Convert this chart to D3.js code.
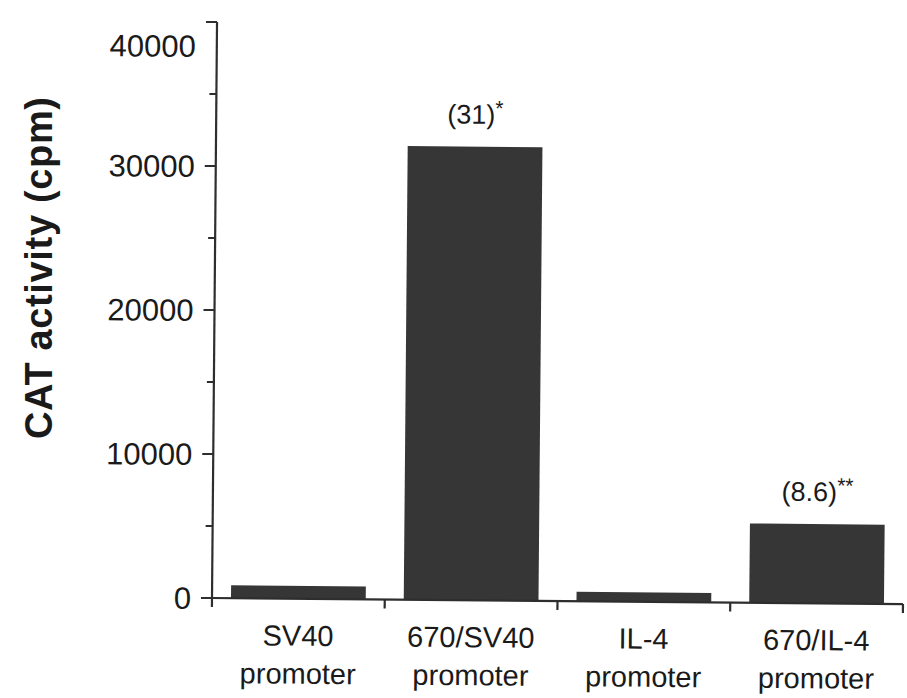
<!DOCTYPE html>
<html>
<head>
<meta charset="utf-8">
<script src="https://cdn.jsdelivr.net/npm/d3@7"></script>
<style>
  html, body { margin: 0; padding: 0; background: #fff; }
  svg { display: block; }
  text { font-family: "Liberation Sans", Arial, Helvetica, sans-serif; fill: #1a1a1a; }
</style>
</head>
<body>
<svg id="chart" width="907" height="698"></svg>
<script>
// CAT reporter activity for each promoter construct
const categories = [
  ["SV40", "promoter"],
  ["670/SV40", "promoter"],
  ["IL-4", "promoter"],
  ["670/IL-4", "promoter"]
];
const catActivity = [900, 31500, 650, 5500];
const foldLabels = [null, ["(31)", "*"], null, ["(8.6)", "**"]];
const majorTicks = [0, 10000, 20000, 30000, 40000];
const minorTicks = [5000, 15000, 25000, 35000];
const yTitle = "CAT activity (cpm)";

const svg = d3.select("#chart");
const origin = { x: 212, y: 598 };
const ink = "#2e2e2e";

// slight clockwise skew of the whole plot
const g = svg.append("g")
  .attr("transform", `rotate(0.5, ${origin.x}, ${origin.y})`);

const y = d3.scaleLinear().domain([0, 40000]).range([origin.y, 22]);
const x = d3.scaleBand()
  .domain(categories.map((d, i) => i))
  .range([origin.x, 903])
  .paddingInner(0.22)
  .paddingOuter(0.11);

// bars
g.selectAll("rect.bar")
  .data(catActivity)
  .join("rect")
  .attr("class", "bar")
  .attr("x", (d, i) => x(i))
  .attr("width", x.bandwidth())
  .attr("y", d => y(d))
  .attr("height", d => y(0) - y(d))
  .attr("fill", "#363636");

// y axis
const yAxis = g.append("g").attr("transform", `translate(${origin.x},0)`);
yAxis.append("line")
  .attr("x1", 0).attr("x2", 0)
  .attr("y1", y(40000)).attr("y2", y(0) + 1)
  .attr("stroke", ink).attr("stroke-width", 2.2);
yAxis.selectAll("line.major").data(majorTicks).join("line")
  .attr("class", "major")
  .attr("x1", -11).attr("x2", 0)
  .attr("y1", d => y(d)).attr("y2", d => y(d))
  .attr("stroke", ink).attr("stroke-width", 2);
yAxis.selectAll("line.minor").data(minorTicks).join("line")
  .attr("class", "minor")
  .attr("x1", -7).attr("x2", 0)
  .attr("y1", d => y(d)).attr("y2", d => y(d))
  .attr("stroke", ink).attr("stroke-width", 2);
yAxis.selectAll("text.tick").data(majorTicks).join("text")
  .attr("class", "tick")
  .attr("x", -21)
  .attr("y", d => y(d) + (d === 40000 ? 24 : 0))
  .attr("dy", "0.36em")
  .attr("text-anchor", "end")
  .style("font-size", "31px")
  .text(d => d);

// x axis with ticks on band boundaries
const edges = categories.map((d, i) => x(i) - x.step() * x.paddingInner() / 2).concat([903]);
edges[0] = origin.x;
const xAxis = g.append("g");
xAxis.append("line")
  .attr("x1", origin.x - 1).attr("x2", 903)
  .attr("y1", y(0)).attr("y2", y(0))
  .attr("stroke", ink).attr("stroke-width", 2.2);
xAxis.selectAll("line.xt").data(edges).join("line")
  .attr("class", "xt")
  .attr("x1", d => d).attr("x2", d => d)
  .attr("y1", y(0)).attr("y2", y(0) + 9)
  .attr("stroke", ink).attr("stroke-width", 2.2);

// category labels (two lines each)
const labels = xAxis.selectAll("text.cat").data(categories).join("text")
  .attr("class", "cat")
  .attr("text-anchor", "middle")
  .style("font-size", "29px");
labels.selectAll("tspan").data((d, i) => d.map(s => ({ s, i }))).join("tspan")
  .attr("x", d => x(d.i) + x.bandwidth() / 2)
  .attr("y", (d, j) => y(0) + 47 + j * 38)
  .text(d => d.s);

// fold-induction annotations above bars
const ann = g.selectAll("text.fold")
  .data(foldLabels.map((f, i) => ({ f, i })).filter(d => d.f))
  .join("text")
  .attr("class", "fold")
  .attr("text-anchor", "middle")
  .attr("x", d => x(d.i) + x.bandwidth() / 2)
  .attr("y", d => y(catActivity[d.i]) - 23)
  .style("font-size", "27px");
ann.append("tspan").text(d => d.f[0]);
ann.append("tspan")
  .attr("dy", "-0.4em")
  .style("font-size", "21px")
  .text(d => d.f[1]);

// y axis title
svg.append("text")
  .attr("transform", "translate(52, 268) rotate(-90)")
  .attr("text-anchor", "middle")
  .style("font-size", "38px")
  .style("font-weight", "bold")
  .attr("textLength", 342)
  .attr("lengthAdjust", "spacing")
  .text(yTitle);
</script>
</body>
</html>
